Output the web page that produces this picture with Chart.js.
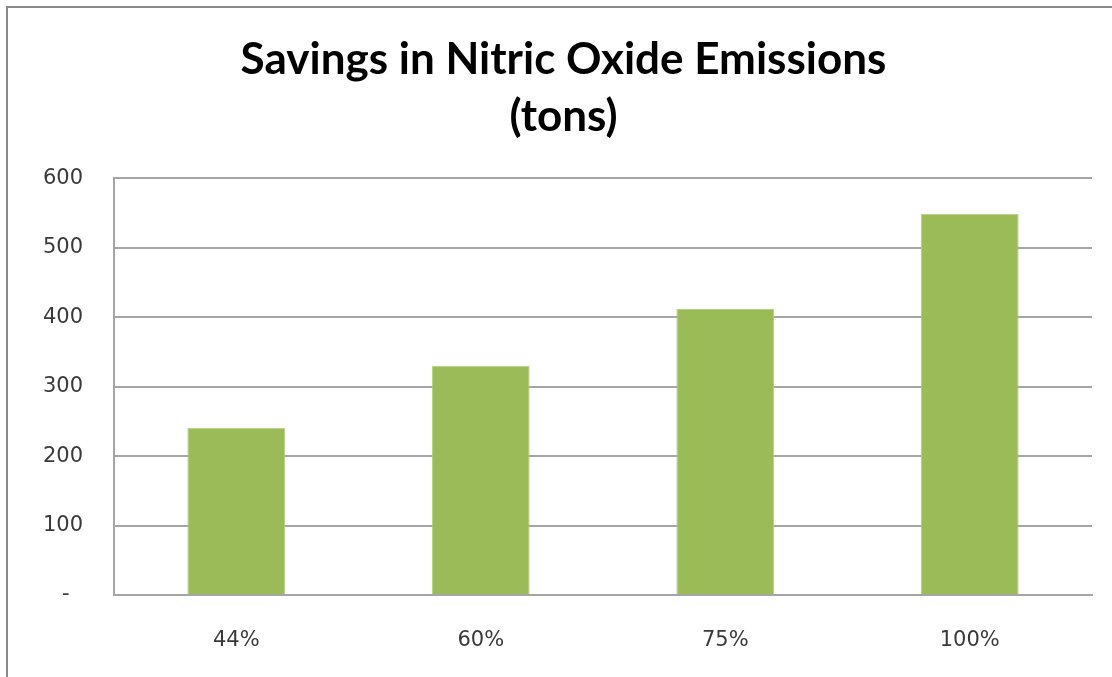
<!DOCTYPE html>
<html>
<head>
<meta charset="utf-8">
<style>
  html, body { margin: 0; padding: 0; background: #fff; }
  #wrap { position: relative; width: 1112px; height: 677px; overflow: hidden; }
  #frame { position: absolute; left: 6px; top: 6px; width: 1200px; height: 800px;
           border-left: 2px solid #8a8a8a; border-top: 2px solid #8a8a8a; }
  canvas { position: absolute; left: 0; top: 0; }
</style>
<script src="https://cdn.jsdelivr.net/npm/chart.js@4/dist/chart.umd.min.js"></script>
</head>
<body>
<div id="wrap">
  <div id="frame"></div>
  <canvas id="c" width="1112" height="677"></canvas>
</div>
<script>
// Share of participation levels and the emission savings at each level
const categories = ['44%', '60%', '75%', '100%'];
const savingsTons = [241, 330, 412, 549];
const titleLines = ['Savings in Nitric Oxide Emissions', '(tons)'];
const yTickStep = 100;
const yMax = 600;

const tickColor = '#3a3a3a';
const gridColor = '#a6a6a6';

new Chart(document.getElementById('c'), {
  type: 'bar',
  data: {
    labels: categories,
    datasets: [{
      data: savingsTons,
      backgroundColor: '#9bbb59',
      borderColor: '#b5d17e',
      borderWidth: 1,
      barPercentage: 0.4,
      categoryPercentage: 1.0
    }]
  },
  options: {
    responsive: false,
    animation: false,
    layout: { padding: { left: 35, right: 20, top: 0, bottom: 0 } },
    plugins: {
      legend: { display: false },
      tooltip: { enabled: false },
      title: {
        display: true,
        text: titleLines,
        color: '#000',
        font: { family: 'Lato', weight: 'bold', size: 44, lineHeight: 1.3 },
        padding: { top: 31, bottom: 33 }
      }
    },
    scales: {
      x: {
        grid: { display: false, drawTicks: false },
        border: { display: true, color: gridColor, width: 2 },
        ticks: { color: tickColor, font: { family: 'DejaVu Sans', size: 21 }, padding: 33 },
        afterFit(scale) { scale.width; scale.height = 82; }
      },
      y: {
        min: 0,
        max: yMax,
        grid: { color: gridColor, lineWidth: 2, drawTicks: false },
        border: { display: true, color: gridColor, width: 2 },
        ticks: {
          stepSize: yTickStep,
          color: tickColor,
          font: { family: 'DejaVu Sans', size: 21 },
          padding: 31,
          // accounting-style zero: a dash set in from the right edge
          callback: v => (v === 0 ? '-  ' : String(v))
        },
        afterFit(scale) { scale.width = 79; }
      }
    }
  }
});
</script>
</body>
</html>
